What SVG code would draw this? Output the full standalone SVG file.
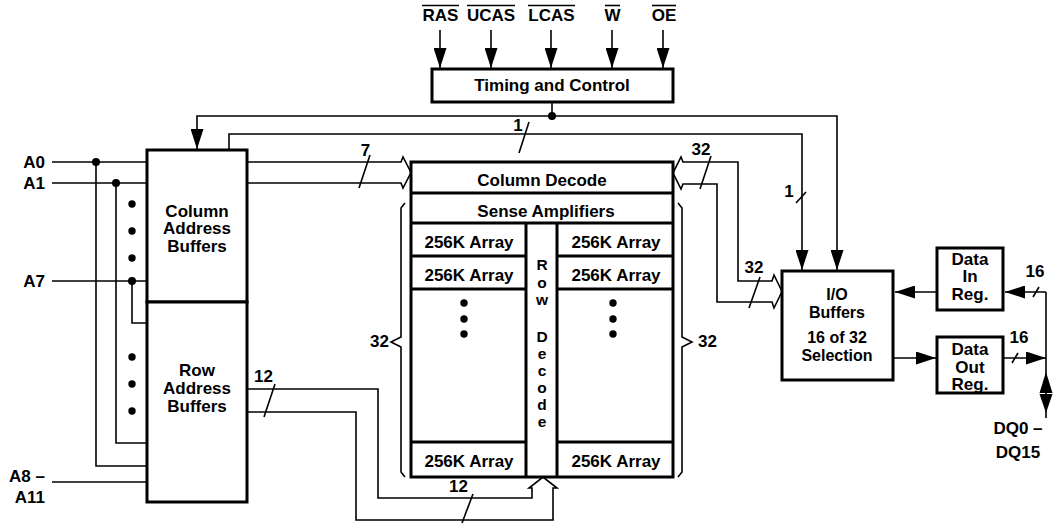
<svg xmlns="http://www.w3.org/2000/svg" width="1055" height="524" viewBox="0 0 1055 524">
<style>
.box{fill:#fff;stroke:#000;stroke-width:3}
.in{fill:none;stroke:#000;stroke-width:3}
.ln{fill:none;stroke:#000;stroke-width:1.6}
.t{font-family:"Liberation Sans",Arial,Helvetica,sans-serif;font-weight:bold;font-size:17px;fill:#000}
.s{font-size:15.5px}
.m{font-size:16px}
.c{text-anchor:middle}
.e{text-anchor:end}
.dot{fill:#000}
</style>
<defs>
<marker id="ah" viewBox="0 0 20 13" refX="20" refY="6.5" markerWidth="20" markerHeight="13" markerUnits="userSpaceOnUse" orient="auto"><path d="M0,0 L20,6.5 L0,13 Z" fill="#000"/></marker>
</defs>
<rect width="1055" height="524" fill="#fff"/>

<g id="connectors">
  <line class="ln" x1="440" y1="30" x2="440" y2="68" marker-end="url(#ah)"/>
  <line class="ln" x1="491" y1="30" x2="491" y2="68" marker-end="url(#ah)"/>
  <line class="ln" x1="551" y1="30" x2="551" y2="68" marker-end="url(#ah)"/>
  <line class="ln" x1="612" y1="30" x2="612" y2="68" marker-end="url(#ah)"/>
  <line class="ln" x1="663" y1="30" x2="663" y2="68" marker-end="url(#ah)"/>
  <line class="ln" x1="552" y1="102" x2="552" y2="116"/>
  <circle class="dot" cx="552" cy="116" r="4"/>
  <path class="ln" d="M552,116 H197 V149" marker-end="url(#ah)"/>
  <path class="ln" d="M552,116 H837 V270" marker-end="url(#ah)"/>
  <path class="ln" d="M229,150 V134 H802 V270" marker-end="url(#ah)"/>
  <line class="ln" x1="529" y1="122" x2="519" y2="153"/>
  <line class="ln" x1="806" y1="192" x2="796" y2="203"/>
  <path class="ln" d="M247,162 H401 L403,157 L411,172.5 L403,188 L401,183 H247"/>
  <line class="ln" x1="370" y1="155" x2="359" y2="188"/>
  <path class="ln" d="M683,162 H738 V281 H772 L774,275 L782,291.5 L774,308 L772,302 H717 V184 H683 L681,189 L673,173 L681,157 Z"/>
  <line class="ln" x1="711" y1="156" x2="700" y2="189"/>
  <line class="ln" x1="760" y1="277" x2="749" y2="308"/>
  <path class="ln" d="M247,389 H378 V498 H532 V488 H529 L543,477 L557,488 H553 V520 H356 V412 H247"/>
  <line class="ln" x1="275" y1="384" x2="264" y2="417"/>
  <line class="ln" x1="473" y1="494" x2="462" y2="523"/>
  <line class="ln" x1="52" y1="162" x2="147" y2="162"/>
  <line class="ln" x1="52" y1="183" x2="147" y2="183"/>
  <line class="ln" x1="52" y1="281" x2="147" y2="281"/>
  <line class="ln" x1="52" y1="482" x2="147" y2="482"/>
  <path class="ln" d="M96,162 V466 H147"/>
  <path class="ln" d="M116,183 V443 H147"/>
  <path class="ln" d="M132,281 V323 H147"/>
  <circle class="dot" cx="96" cy="162" r="4"/>
  <circle class="dot" cx="116" cy="183" r="4"/>
  <circle class="dot" cx="132" cy="281" r="4"/>
  <circle class="dot" cx="132" cy="204" r="3.7"/>
  <circle class="dot" cx="132" cy="231" r="3.7"/>
  <circle class="dot" cx="132" cy="258" r="3.7"/>
  <circle class="dot" cx="132" cy="357" r="3.7"/>
  <circle class="dot" cx="132" cy="384" r="3.7"/>
  <circle class="dot" cx="132" cy="411" r="3.7"/>
  <line class="ln" x1="937" y1="292" x2="895" y2="292" marker-end="url(#ah)"/>
  <line class="ln" x1="1046" y1="292" x2="1005" y2="292" marker-end="url(#ah)"/>
  <line class="ln" x1="893" y1="358" x2="936" y2="358" marker-end="url(#ah)"/>
  <line class="ln" x1="1003" y1="358" x2="1046" y2="358" marker-end="url(#ah)"/>
  <line class="ln" x1="1046" y1="292" x2="1046" y2="418"/>
  <polygon class="dot" points="1046,372 1052.5,393 1039.5,393"/>
  <polygon class="dot" points="1039.5,394 1052.5,394 1046,413"/>
  <line class="ln" x1="1039" y1="287" x2="1033" y2="297"/>
  <line class="ln" x1="1018" y1="353" x2="1012" y2="363"/>
  <path class="ln" d="M405,203 L401,208 V337 L391,342 L401,347 V472 L405,477"/>
  <path class="ln" d="M678,203 L682,208 V337 L692,342 L682,347 V472 L678,477"/>
</g>

<g id="signal-labels">
  <text class="t c" x="440.5" y="21">RAS</text>
  <text class="t c" x="491" y="21">UCAS</text>
  <text class="t c" x="551.5" y="21">LCAS</text>
  <text class="t c" x="612.5" y="21">W</text>
  <text class="t c" x="664" y="21">OE</text>
  <line class="ln" x1="422" y1="5.5" x2="459" y2="5.5"/>
  <line class="ln" x1="467" y1="5.5" x2="515" y2="5.5"/>
  <line class="ln" x1="528" y1="5.5" x2="575" y2="5.5"/>
  <line class="ln" x1="605" y1="5.5" x2="620" y2="5.5"/>
  <line class="ln" x1="652" y1="5.5" x2="676" y2="5.5"/>
</g>

<g id="timing-control">
  <rect class="box" x="432" y="69" width="241" height="33"/>
  <text class="t c" x="552" y="91">Timing and Control</text>
</g>

<g id="column-address-buffers">
  <rect class="box" x="147" y="150" width="100" height="152"/>
  <text class="t c"><tspan x="197" y="217">Column</tspan><tspan x="197" y="234">Address</tspan><tspan x="197" y="252">Buffers</tspan></text>
</g>

<g id="row-address-buffers">
  <rect class="box" x="147" y="302" width="100" height="200"/>
  <text class="t c"><tspan x="197" y="376">Row</tspan><tspan x="197" y="394">Address</tspan><tspan x="197" y="412">Buffers</tspan></text>
</g>

<g id="address-labels">
  <text class="t e" x="45" y="168">A0</text>
  <text class="t e" x="45" y="189">A1</text>
  <text class="t e" x="45" y="287">A7</text>
  <text class="t e"><tspan x="45" y="482">A8 –</tspan><tspan x="45" y="503">A11</tspan></text>
</g>

<g id="memory-array">
  <rect class="box" x="411" y="162" width="262" height="315"/>
  <line class="in" x1="411" y1="193" x2="673" y2="193"/>
  <line class="in" x1="411" y1="223" x2="673" y2="223"/>
  <line class="in" x1="526" y1="223" x2="526" y2="477"/>
  <line class="in" x1="557" y1="223" x2="557" y2="477"/>
  <line class="in" x1="411" y1="256" x2="526" y2="256"/>
  <line class="in" x1="411" y1="289" x2="526" y2="289"/>
  <line class="in" x1="411" y1="442" x2="526" y2="442"/>
  <line class="in" x1="557" y1="256" x2="673" y2="256"/>
  <line class="in" x1="557" y1="289" x2="673" y2="289"/>
  <line class="in" x1="557" y1="442" x2="673" y2="442"/>
  <text class="t c" x="542" y="186">Column Decode</text>
  <text class="t c" x="546" y="217">Sense Amplifiers</text>
  <text class="t c" x="469" y="248">256K Array</text>
  <text class="t c" x="469" y="281">256K Array</text>
  <text class="t c" x="469" y="467">256K Array</text>
  <text class="t c" x="616" y="248">256K Array</text>
  <text class="t c" x="616" y="281">256K Array</text>
  <text class="t c" x="616" y="467">256K Array</text>
  <circle class="dot" cx="464" cy="303" r="3.7"/>
  <circle class="dot" cx="464" cy="319" r="3.7"/>
  <circle class="dot" cx="464" cy="334" r="3.7"/>
  <circle class="dot" cx="613" cy="303" r="3.7"/>
  <circle class="dot" cx="613" cy="319" r="3.7"/>
  <circle class="dot" cx="613" cy="334" r="3.7"/>
  <text class="t s c"><tspan x="542" y="270">R</tspan><tspan x="542" y="288">o</tspan><tspan x="542" y="305">w</tspan><tspan x="542" y="342">D</tspan><tspan x="542" y="359">e</tspan><tspan x="542" y="376">c</tspan><tspan x="542" y="393">o</tspan><tspan x="542" y="410">d</tspan><tspan x="542" y="427">e</tspan></text>
</g>

<g id="bus-labels">
  <text class="t c" x="365.5" y="156">7</text>
  <text class="t c" x="518" y="131">1</text>
  <text class="t c" x="701" y="155">32</text>
  <text class="t c" x="789" y="197">1</text>
  <text class="t c" x="754" y="273">32</text>
  <text class="t c" x="263.5" y="382">12</text>
  <text class="t c" x="458.5" y="492">12</text>
  <text class="t e" x="389" y="347">32</text>
  <text class="t" x="698" y="347">32</text>
  <text class="t c" x="1035" y="277">16</text>
  <text class="t c" x="1019" y="343">16</text>
</g>

<g id="io-buffers">
  <rect class="box" x="782" y="271" width="111" height="109"/>
  <text class="t m c"><tspan x="837" y="300">I/O</tspan><tspan x="837" y="318">Buffers</tspan><tspan x="837" y="343">16 of 32</tspan><tspan x="837" y="361">Selection</tspan></text>
</g>

<g id="data-in-reg">
  <rect class="box" x="937" y="248" width="66" height="62"/>
  <text class="t c"><tspan x="970" y="265">Data</tspan><tspan x="970" y="282">In</tspan><tspan x="970" y="300">Reg.</tspan></text>
</g>

<g id="data-out-reg">
  <rect class="box" x="937" y="337" width="66" height="56"/>
  <text class="t c"><tspan x="970" y="355">Data</tspan><tspan x="970" y="373">Out</tspan><tspan x="970" y="390">Reg.</tspan></text>
</g>

<g id="dq-labels">
  <text class="t c"><tspan x="1018" y="434">DQ0 –</tspan><tspan x="1018" y="458">DQ15</tspan></text>
</g>
</svg>
